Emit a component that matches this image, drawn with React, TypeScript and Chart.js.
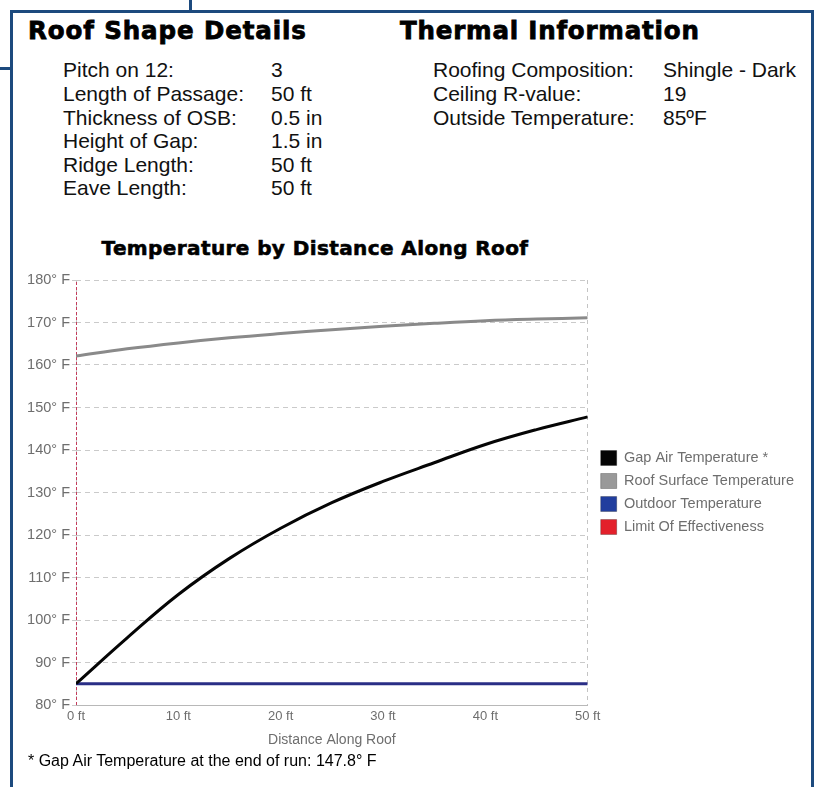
import React, { useEffect, useRef } from "react";
import { Chart, registerables } from "chart.js";

Chart.register(...registerables);

const distanceFt = [0, 5, 10, 15, 20, 25, 30, 35, 40, 45, 50];
const gapAirTemp = [85, 95.8, 106.0, 114.5, 121.6, 127.6, 132.6, 137.0, 141.3, 144.8, 147.8];
const roofSurfaceTemp = [162.1, 163.8, 165.2, 166.4, 167.4, 168.3, 169.1, 169.8, 170.4, 170.8, 171.1];
const outdoorTemp = [85, 85, 85, 85, 85, 85, 85, 85, 85, 85, 85];
const limitDistance = [0, 0];
const limitTemp = [80, 180];

const seriesNames = ["Gap Air Temperature *", "Roof Surface Temperature", "Outdoor Temperature", "Limit Of Effectiveness"];

const roofRows = [
  ["Pitch on 12:", "3"],
  ["Length of Passage:", "50 ft"],
  ["Thickness of OSB:", "0.5 in"],
  ["Height of Gap:", "1.5 in"],
  ["Ridge Length:", "50 ft"],
  ["Eave Length:", "50 ft"],
];
const thermalRows = [
  ["Roofing Composition:", "Shingle - Dark"],
  ["Ceiling R-value:", "19"],
  ["Outside Temperature:", "85ºF"],
];

const FONT = '"Liberation Sans", Arial, Helvetica, sans-serif';
const HEAD_FONT = '"DejaVu Sans", Verdana, sans-serif';
const FRAME = "#1c4a7e";
const GRAY_TEXT = "#6e6e6e";

function pts(xs: number[], ys: number[]) {
  return xs.map((x, i) => ({ x, y: ys[i] }));
}

const legendShift = {
  id: "legendShift",
  afterLayout(chart: any) {
    if (chart.legend) {
      chart.legend.left += 5;
      chart.legend.right += 5;
    }
  },
};

function TempChart() {
  const ref = useRef<HTMLCanvasElement | null>(null);
  useEffect(() => {
    if (!ref.current) return;
    const chart = new Chart(ref.current, {
      type: "line",
      data: {
        datasets: [
          {
            label: seriesNames[0],
            data: pts(distanceFt, gapAirTemp),
            borderColor: "#050505",
            backgroundColor: "#050505",
            borderWidth: 3,
            pointRadius: 0,
            tension: 0.4,
          },
          {
            label: seriesNames[1],
            data: pts(distanceFt, roofSurfaceTemp),
            borderColor: "#8a8a8a",
            backgroundColor: "#999999",
            borderWidth: 3,
            pointRadius: 0,
            tension: 0.4,
          },
          {
            label: seriesNames[2],
            data: pts(distanceFt, outdoorTemp),
            borderColor: "#2a2e86",
            backgroundColor: "#213e9e",
            borderWidth: 3,
            pointRadius: 0,
          },
          {
            label: seriesNames[3],
            data: pts(limitDistance, limitTemp),
            borderColor: "#c43c5c",
            backgroundColor: "#e3202b",
            borderWidth: 2,
            borderDash: [3, 2],
            pointRadius: 0,
          },
        ],
      },
      options: {
        animation: false,
        responsive: false,
        layout: { padding: { top: 20, left: 0, right: 18, bottom: 0 } },
        scales: {
          x: {
            type: "linear",
            min: 0,
            max: 50,
            ticks: {
              stepSize: 10,
              color: GRAY_TEXT,
              padding: 4,
              font: { family: FONT, size: 13 },
              callback: (v: any) => `${v} ft`,
            },
            grid: {
              drawTicks: false,
              color: (ctx: any) =>
                ctx.tick && (ctx.tick.value === 0 || ctx.tick.value === 50) ? "#c4c4c4" : "rgba(0,0,0,0)",
            },
            border: { display: true, color: "#b8b8b8", dash: [4, 4] },
            title: {
              display: true,
              text: "Distance Along Roof",
              color: GRAY_TEXT,
              font: { family: FONT, size: 14 },
              padding: { top: 6, bottom: 4 },
            },
            afterFit: (scale: any) => {
              scale.height = 48;
            },
          },
          y: {
            min: 80,
            max: 180,
            ticks: {
              stepSize: 10,
              color: GRAY_TEXT,
              padding: 2,
              font: { family: FONT, size: 14.5 },
              callback: (v: any) => `${v}° F`,
            },
            grid: { color: "#cacaca", tickLength: 4, drawTicks: true },
            border: { display: false, dash: [5, 4] },
            afterFit: (scale: any) => {
              scale.width = 76;
            },
          },
        },
        plugins: {
          title: { display: false },
          tooltip: { enabled: false },
          legend: {
            position: "right",
            fullSize: false,
            align: "center",
            maxWidth: 260,
            labels: {
              boxWidth: 16,
              boxHeight: 15,
              padding: 8,
              color: GRAY_TEXT,
              font: { family: FONT, size: 14.5 },
              generateLabels: (c: any) => {
                const items = (Chart.defaults.plugins.legend.labels as any).generateLabels(c);
                return items.map((it: any) => ({
                  ...it,
                  lineDash: [],
                  lineWidth: 1,
                  strokeStyle: "rgba(0,0,0,0.25)",
                }));
              },
            },
          },
        },
      } as any,
      plugins: [legendShift],
    });
    return () => chart.destroy();
  }, []);
  return <canvas ref={ref} width={817} height={493} style={{ display: "block", width: 817, height: 493 }} />;
}

export default function App() {
  const rowStyle: React.CSSProperties = {
    position: "absolute",
    fontFamily: FONT,
    fontSize: 21,
    lineHeight: "23.6px",
    color: "#111",
    whiteSpace: "nowrap",
  };
  const headStyle: React.CSSProperties = {
    position: "absolute",
    top: 16.4,
    fontFamily: HEAD_FONT,
    fontWeight: "bold",
    fontSize: 24.5,
    lineHeight: "30px",
    letterSpacing: 0.9,
    color: "#000",
    whiteSpace: "nowrap",
    WebkitTextStroke: "0.8px #000",
  };
  return (
    <div
      style={{
        position: "absolute",
        left: 0,
        top: 0,
        width: 817,
        height: 787,
        overflow: "hidden",
        background: "#fff",
        fontFamily: FONT,
      }}
    >
      <div
        style={{
          position: "absolute",
          left: 10,
          top: 10,
          width: 798,
          height: 820,
          border: `3px solid ${FRAME}`,
          borderBottom: "none",
        }}
      />
      <div style={{ position: "absolute", left: 188.5, top: 0, width: 3, height: 11, background: FRAME }} />
      <div style={{ position: "absolute", left: 0, top: 66.5, width: 11, height: 3, background: FRAME }} />

      <div style={{ ...headStyle, left: 28 }}>Roof Shape Details</div>
      <div style={{ ...headStyle, left: 400, letterSpacing: 0.8 }}>Thermal Information</div>

      <div style={{ ...rowStyle, left: 63, top: 58.4 }}>
        {roofRows.map((r) => (
          <div key={r[0]}>{r[0]}</div>
        ))}
      </div>
      <div style={{ ...rowStyle, left: 271, top: 58.4 }}>
        {roofRows.map((r) => (
          <div key={r[0]}>{r[1]}</div>
        ))}
      </div>
      <div style={{ ...rowStyle, left: 433, top: 58.4 }}>
        {thermalRows.map((r) => (
          <div key={r[0]}>{r[0]}</div>
        ))}
      </div>
      <div style={{ ...rowStyle, left: 663, top: 58.4 }}>
        {thermalRows.map((r) => (
          <div key={r[0]}>{r[1]}</div>
        ))}
      </div>

      <div
        style={{
          position: "absolute",
          left: 0,
          width: 630,
          top: 236.4,
          textAlign: "center",
          fontFamily: HEAD_FONT,
          fontWeight: "bold",
          fontSize: 20,
          lineHeight: "24px",
          letterSpacing: 0.4,
          color: "#000",
          whiteSpace: "nowrap",
          WebkitTextStroke: "0.6px #000",
        }}
      >
        Temperature by Distance Along Roof
      </div>

      <div style={{ position: "absolute", left: 0, top: 260 }}>
        <TempChart />
      </div>

      <div
        style={{
          position: "absolute",
          left: 28,
          top: 752,
          fontFamily: FONT,
          fontSize: 16,
          lineHeight: "18.4px",
          color: "#000",
          whiteSpace: "nowrap",
        }}
      >
        * Gap Air Temperature at the end of run: 147.8° F
      </div>
    </div>
  );
}
